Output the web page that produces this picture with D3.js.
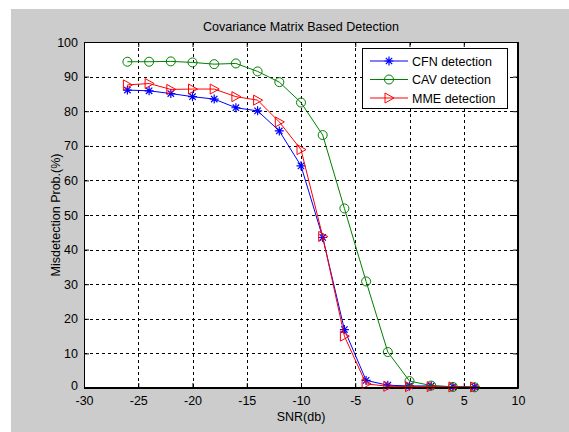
<!DOCTYPE html>
<html>
<head>
<meta charset="utf-8">
<script src="https://cdn.jsdelivr.net/npm/d3@7"></script>
<style>
  body { margin: 0; background: #fff; }
  svg { display: block; }
  text { font-family: "Liberation Sans", Arial, sans-serif; }
</style>
</head>
<body>
<svg id="chart" width="569" height="432"></svg>
<script>
// SNR points (db)
var snr = [-26, -24, -22, -20, -18, -16, -14, -12, -10, -8, -6, -4, -2, 0, 2, 4, 6];

// Misdetection probability (%) per method
var cfn = [86.1, 85.9, 85.1, 84.2, 83.5, 81.0, 80.1, 74.3, 64.2, 43.5, 16.9, 2.2, 0.8, 0.6, 0.6, 0.4, 0.3];
var cav = [94.3, 94.3, 94.4, 94.1, 93.6, 93.8, 91.5, 88.4, 82.5, 73.1, 51.9, 30.8, 10.4, 2.0, 0.7, 0.3, 0.2];
var mme = [87.6, 88.0, 86.3, 86.4, 86.4, 84.2, 83.2, 76.9, 68.9, 43.8, 15.0, 1.2, 0.5, 0.4, 0.4, 0.3, 0.3];

var xTicks = [-30, -25, -20, -15, -10, -5, 0, 5, 10];
var yTicks = [0, 10, 20, 30, 40, 50, 60, 70, 80, 90, 100];

var series = [
  {name: 'CFN detection', values: cfn, color: '#0000ff', marker: 'star'},
  {name: 'CAV detection', values: cav, color: '#008000', marker: 'circle'},
  {name: 'MME detection', values: mme, color: '#ff0000', marker: 'tri'}
];

var svg = d3.select('#chart');

// figure background
svg.append('rect')
   .attr('x', 11).attr('y', 9)
   .attr('width', 558).attr('height', 423)
   .attr('fill', '#cccccc');

var pLeft = 84, pRight = 518, pTop = 42, pBottom = 388;

var x = d3.scaleLinear().domain([-30, 10]).range([pLeft, pRight]);
var y = d3.scaleLinear().domain([0, 100]).range([pBottom, pTop]);

// plot area
svg.append('rect')
   .attr('x', pLeft).attr('y', pTop)
   .attr('width', pRight - pLeft).attr('height', pBottom - pTop)
   .attr('fill', '#fff');

// grid
var grid = svg.append('g').attr('stroke', '#000').attr('stroke-dasharray', '3,3').attr('stroke-width', 1);
xTicks.slice(1, -1).forEach(function(t) {
  grid.append('line')
      .attr('x1', Math.round(x(t)) + 0.5).attr('x2', Math.round(x(t)) + 0.5)
      .attr('y1', pTop).attr('y2', pBottom);
});
yTicks.slice(1, -1).forEach(function(t) {
  grid.append('line')
      .attr('x1', pLeft).attr('x2', pRight)
      .attr('y1', Math.round(y(t)) + 0.5).attr('y2', Math.round(y(t)) + 0.5);
});

// plain hyphen minus like matlab
var fmt = function(d) { return String(d); };

// axes (ticks inward, box on)
var xAxis = svg.append('g').attr('transform', 'translate(0,' + pBottom + ')')
  .call(d3.axisBottom(x).tickValues(xTicks).tickFormat(fmt).tickSizeInner(-5).tickSizeOuter(0).tickPadding(8));
var xTop = svg.append('g').attr('transform', 'translate(0,' + pTop + ')')
  .call(d3.axisTop(x).tickValues(xTicks).tickSizeInner(-5).tickSizeOuter(0).tickFormat(''));
var yAxis = svg.append('g').attr('transform', 'translate(' + pLeft + ',0)')
  .call(d3.axisLeft(y).tickValues(yTicks).tickFormat(fmt).tickSizeInner(-5).tickSizeOuter(0).tickPadding(6));
var yRight = svg.append('g').attr('transform', 'translate(' + pRight + ',0)')
  .call(d3.axisRight(y).tickValues(yTicks).tickSizeInner(-5).tickSizeOuter(0).tickFormat(''));

[xAxis, xTop, yAxis, yRight].forEach(function(a) {
  a.selectAll('.domain').attr('stroke', '#000');
  a.selectAll('line').attr('stroke', '#000');
  a.selectAll('text').attr('fill', '#000').style('font-size', '12.5px')
   .style('font-family', '"Liberation Sans", Arial, sans-serif');
});
// nudge the 0 label up so it sits at the corner like the reference
yAxis.selectAll('text').filter(function(d) { return d === 0; }).attr('dy', '0.1em');

// marker drawing
function drawMarker(g, kind, cx, cy, color) {
  if (kind === 'star') {
    var s = 4.5;
    var p = 'M' + (cx - s) + ',' + cy + 'L' + (cx + s) + ',' + cy +
            'M' + cx + ',' + (cy - s) + 'L' + cx + ',' + (cy + s) +
            'M' + (cx - 3.2) + ',' + (cy - 3.2) + 'L' + (cx + 3.2) + ',' + (cy + 3.2) +
            'M' + (cx - 3.2) + ',' + (cy + 3.2) + 'L' + (cx + 3.2) + ',' + (cy - 3.2);
    g.append('path').attr('d', p).attr('stroke', color).attr('stroke-width', 1.2).attr('fill', 'none');
  } else if (kind === 'circle') {
    g.append('circle').attr('cx', cx).attr('cy', cy).attr('r', 4.5)
     .attr('stroke', color).attr('fill', 'none').attr('stroke-width', 1);
  } else {
    var t = 'M' + (cx - 4) + ',' + (cy - 5) + 'L' + (cx + 5) + ',' + cy + 'L' + (cx - 4) + ',' + (cy + 5) + 'Z';
    g.append('path').attr('d', t).attr('stroke', color).attr('fill', 'none').attr('stroke-width', 1);
  }
}

var line = d3.line()
  .x(function(d, i) { return x(snr[i]); })
  .y(function(d) { return y(d); });

series.forEach(function(s) {
  var g = svg.append('g');
  g.append('path')
   .datum(s.values)
   .attr('d', line)
   .attr('fill', 'none')
   .attr('stroke', s.color)
   .attr('stroke-width', 1);
  s.values.forEach(function(v, i) {
    drawMarker(g, s.marker, x(snr[i]), y(v), s.color);
  });
});

// box border on top
svg.append('rect')
   .attr('x', pLeft + 0.5).attr('y', pTop + 0.5)
   .attr('width', pRight - pLeft - 1).attr('height', pBottom - pTop - 1)
   .attr('fill', 'none').attr('stroke', '#000');

// legend
var lg = svg.append('g');
lg.append('rect')
  .attr('x', 362.5).attr('y', 48.5).attr('width', 145).attr('height', 60)
  .attr('fill', '#fff').attr('stroke', '#000');
series.forEach(function(s, i) {
  var ly = 61 + i * 18.5;
  lg.append('line').attr('x1', 370).attr('x2', 408).attr('y1', ly).attr('y2', ly)
    .attr('stroke', s.color).attr('stroke-width', 1);
  drawMarker(lg, s.marker, 389, ly, s.color);
  lg.append('text').attr('x', 412).attr('y', ly + 4.5)
    .style('font-size', '12.5px').text(s.name);
});

// title and labels
svg.append('text')
   .attr('x', (pLeft + pRight) / 2).attr('y', 31)
   .attr('text-anchor', 'middle').style('font-size', '12.5px')
   .text('Covariance Matrix Based Detection');

svg.append('text')
   .attr('x', (pLeft + pRight) / 2).attr('y', 421)
   .attr('text-anchor', 'middle').style('font-size', '12.5px')
   .text('SNR(db)');

svg.append('text')
   .attr('transform', 'translate(60,' + ((pTop + pBottom) / 2) + ') rotate(-90)')
   .attr('text-anchor', 'middle').style('font-size', '12.5px')
   .text('Misdetection Prob.(%)');
</script>
</body>
</html>
